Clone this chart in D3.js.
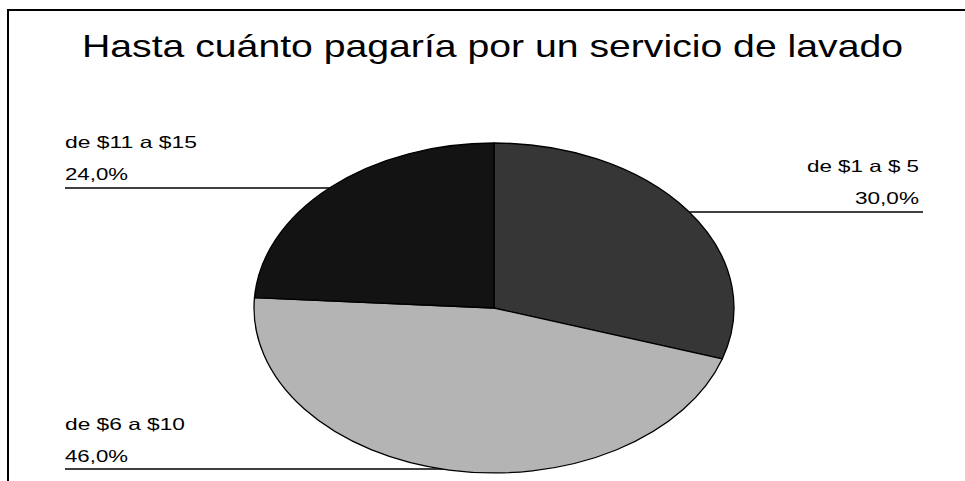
<!DOCTYPE html>
<html>
<head>
<meta charset="utf-8">
<script src="https://cdn.jsdelivr.net/npm/d3@7"></script>
<style>
  html, body { margin: 0; padding: 0; background: #fff; }
  svg { display: block; }
  text { font-family: "Liberation Sans", Arial, sans-serif; fill: #000; }
</style>
</head>
<body>
<svg id="chart" width="965" height="481"></svg>
<script>
// Survey: how much would you pay for a wash service
const categories = ["de $1 a $ 5", "de $6 a $10", "de $11 a $15"];
const values = [30, 46, 24];
const percentLabels = ["30,0%", "46,0%", "24,0%"];
const sliceColors = ["#363636", "#b4b4b4", "#131313"];

const svg = d3.select("#chart");

// outer frame (runs past the right and bottom edges)
svg.append("rect")
  .attr("x", 8).attr("y", 10)
  .attr("width", 1000).attr("height", 600)
  .attr("fill", "none").attr("stroke", "#000").attr("stroke-width", 2);

// title
svg.append("text")
  .attr("x", 82).attr("y", 57)
  .attr("font-size", 32)
  .attr("textLength", 821)
  .attr("lengthAdjust", "spacingAndGlyphs")
  .text("Hasta cuánto pagaría por un servicio de lavado");

// elliptical pie
const cx = 494, cy = 308, rx = 240, ry = 165;
const pie = d3.pie().sort(null).value(d => d)
  .startAngle(0).endAngle(2 * Math.PI);
const arcs = pie(values);
const arc = d3.arc().innerRadius(0).outerRadius(1);

// point on the ellipse rim at a given y, on the given side
function rimX(y, side) {
  const t = (y - cy) / ry;
  return cx + side * rx * Math.sqrt(Math.max(0, 1 - t * t));
}

// label layout per slice: text edge, anchor, name baseline, leader y, leader outer x
const layout = [
  { x: 919, anchor: "end",   y1: 172, ly: 212, lx: 923, side:  1, w1: 112, w2: 64 },
  { x: 65,  anchor: "start", y1: 430, ly: 469, lx: 65,  side: -1, w1: 120, w2: 63 },
  { x: 65,  anchor: "start", y1: 148, ly: 188, lx: 65,  side: -1, w1: 132, w2: 63 }
];

// leader lines
layout.forEach(L => {
  svg.append("line")
    .attr("x1", L.lx).attr("x2", rimX(L.ly, L.side) + (L.ly > cy + 150 ? 10 : 0))
    .attr("y1", L.ly).attr("y2", L.ly)
    .attr("stroke", "#000").attr("stroke-width", 1.3);
});

const g = svg.append("g")
  .attr("transform", `translate(${cx},${cy}) scale(${rx},${ry})`);

g.selectAll("path.slice")
  .data(arcs)
  .join("path")
  .attr("class", "slice")
  .attr("d", arc)
  .attr("fill", (d, i) => sliceColors[i])
  .attr("stroke", "#000")
  .attr("stroke-width", 1.3)
  .attr("vector-effect", "non-scaling-stroke")
  .attr("stroke-linejoin", "round");

// category and percent labels
layout.forEach((L, i) => {
  svg.append("text")
    .attr("x", L.anchor === "end" ? L.x - L.w1 : L.x)
    .attr("y", L.y1)
    .attr("font-size", 16.5)
    .attr("textLength", L.w1)
    .attr("lengthAdjust", "spacingAndGlyphs")
    .text(categories[i]);
  svg.append("text")
    .attr("x", L.anchor === "end" ? L.x - L.w2 : L.x)
    .attr("y", L.y1 + 32)
    .attr("font-size", 16.5)
    .attr("textLength", L.w2)
    .attr("lengthAdjust", "spacingAndGlyphs")
    .text(percentLabels[i]);
});
</script>
</body>
</html>
